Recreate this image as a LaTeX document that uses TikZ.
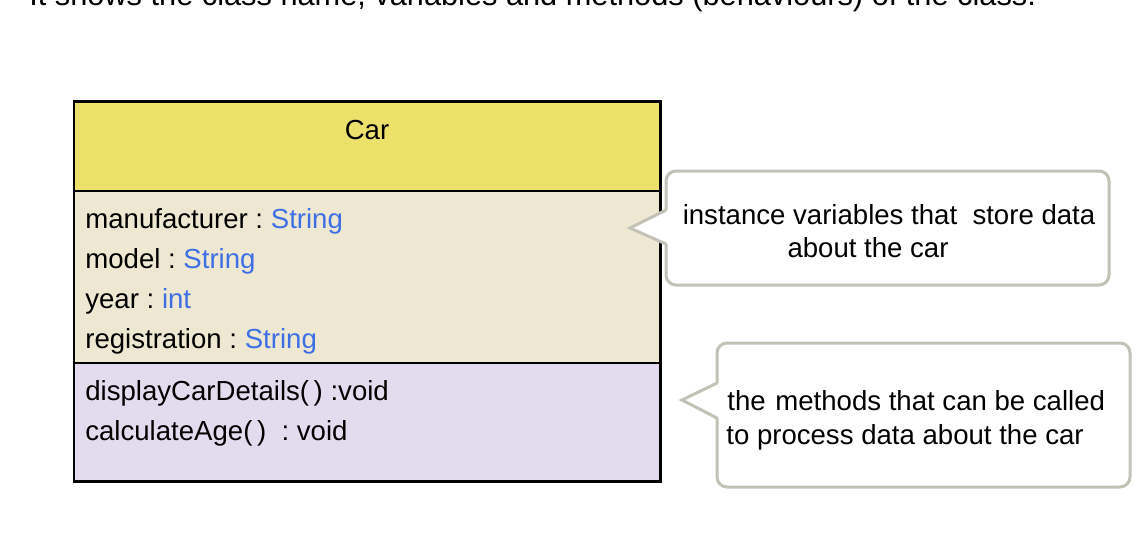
\documentclass[tikz,border=0pt]{standalone}
\usepackage{fontspec}
\setmainfont{Liberation Sans}
\definecolor{hdr}{HTML}{ECE16B}
\definecolor{attr}{HTML}{EEE8D3}
\definecolor{meth}{HTML}{E3DCEE}
\definecolor{typ}{HTML}{3D6FE4}
\definecolor{cbord}{HTML}{C2C3B6}
\begin{document}
\begin{tikzpicture}[x=0.02cm,y=-0.02cm,
  txt/.style={inner sep=0pt,anchor=base west,font=\fontsize{15.7}{19}\selectfont},
  ctxt/.style={inner sep=0pt,anchor=base,font=\fontsize{15.7}{19}\selectfont},
  sep/.style={line width=0.9pt,black},
  callout/.style={draw=cbord,line width=1.7pt,fill=white,rounded corners=0.2cm},
  ptr/.style={draw=cbord,line width=1.7pt,line join=miter}]
\clip (0,0) rectangle (1148,542);
\fill[white] (0,0) rectangle (1148,542);
% cut-off caption at top
\node[inner sep=0pt,anchor=base west,font=\fontsize{17.5}{21}\selectfont] (cap) at (29,5) {It shows the class name, variables and methods (behaviours) of the class.};
% class box
\fill[hdr] (74,101) rectangle (660,191);
\fill[attr] (74,191) rectangle (660,363);
\fill[meth] (74,363) rectangle (660,481);
\draw[sep] (74,191) -- (660,191);
\draw[sep] (74,363) -- (660,363);
\draw[line width=1.7pt] (74,101) rectangle (660,481);
\node[ctxt] (car) at (367,139) {Car};
\node[txt] (a1) at (85,228) {manufacturer :\ \textcolor{typ}{String}};
\node[txt] (a2) at (85,268) {model :\ \textcolor{typ}{String}};
\node[txt] (a3) at (85,308) {year :\ \textcolor{typ}{int}};
\node[txt] (a4) at (85,348) {registration :\ \textcolor{typ}{String}};
\node[txt] (m1) at (85,400) {displayCarDetails(\,)\ :void};
\node[txt] (m2) at (85,440) {calculateAge(\,)\ \ :\ void};
% callout 1
\draw[callout] (666,171) rectangle (1109,285);
\fill[white] (668,210) -- (630,228) -- (668,244) -- cycle;
\draw[ptr] (666,210) -- (630,228) -- (666,244);
\node[ctxt] (c1a) at (889,224) {instance variables that\ \ store data};
\node[ctxt] (c1b) at (868,257) {about the car};
% callout 2
\draw[callout] (717,343) rectangle (1130,487);
\fill[white] (719,383) -- (682,400) -- (719,418) -- cycle;
\draw[ptr] (717,383) -- (682,400) -- (717,418);
\node[txt] (c2a) at (727,410) {the\hspace{0.35em}methods that can be called};
\node[txt] (c2b) at (726,444) {to process data about the car};
\end{tikzpicture}
\end{document}
